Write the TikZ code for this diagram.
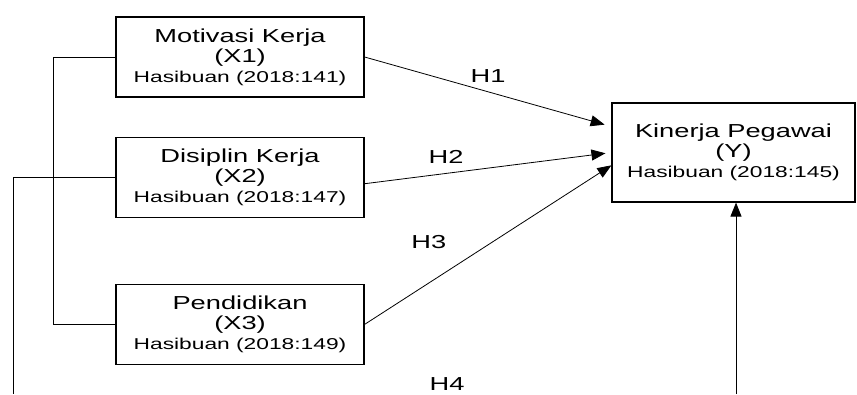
\documentclass[tikz,border=0pt]{standalone}
\usepackage{fontspec}
\setmainfont[FakeStretch=1.45]{Liberation Sans}
\usepackage{tikz}
\usetikzlibrary{positioning, arrows.meta}
\newcommand{\srcfont}{\fontsize{15.7}{20}\selectfont}
\tikzset{
    >={Triangle[length=14pt, width=11pt]}, % filled arrow heads
    x=1pt, y=-1pt, % work in pixels of the original, y downwards
    every path/.style={line width=0.8pt},
    var/.style={draw, line width=1.2pt, minimum width=248pt, minimum height=80pt, inner sep=0pt, align=center, font=\fontsize{18.8}{20}\selectfont}, % variable boxes
    hyp/.style={inner sep=0pt, font=\fontsize{18.8}{20}\selectfont}, % hypothesis labels
}
\begin{document}
\begin{tikzpicture}
        \useasboundingbox (0,0) rectangle (857,394);

        \node[var] (x1) at (240,57) {Motivasi Kerja\\(X1)\\{\srcfont Hasibuan (2018:141)}};
        \node[var, below=39pt of x1] (x2) {Disiplin Kerja\\(X2)\\{\srcfont Hasibuan (2018:147)}};
        \node[var, below=66pt of x2] (x3) {Pendidikan\\(X3)\\{\srcfont Hasibuan (2018:149)}};
        \node[var, minimum width=243pt, minimum height=99pt] (y) at (733.5,152.5) {Kinerja Pegawai\\(Y)\\{\srcfont Hasibuan (2018:145)}};
        \coordinate (lowl) at (13,394);
        \coordinate (lowr) at (736,394);

        \draw[->, shorten >=7pt] (x1.east) -- node[hyp, above=9.3pt, pos=0.5]{H1} (y.168);
        \draw[->, shorten >=6pt] (x2.-3) -- node[hyp, above=9.7pt, pos=0.33]{H2} (y.west);
        \draw[->] (x3.east) -- node[hyp, above=33.8pt, pos=0.26]{H3} (y.186);

        \draw (x1.west) -- ++(-62,0) |- (x3.west);
        \draw (x2.west) -| (lowl);
        \draw[->] (lowr) -- (lowr |- y.south);
        \node[hyp] (h4) at (447,384.5) {H4};
    \end{tikzpicture}
\end{document}
